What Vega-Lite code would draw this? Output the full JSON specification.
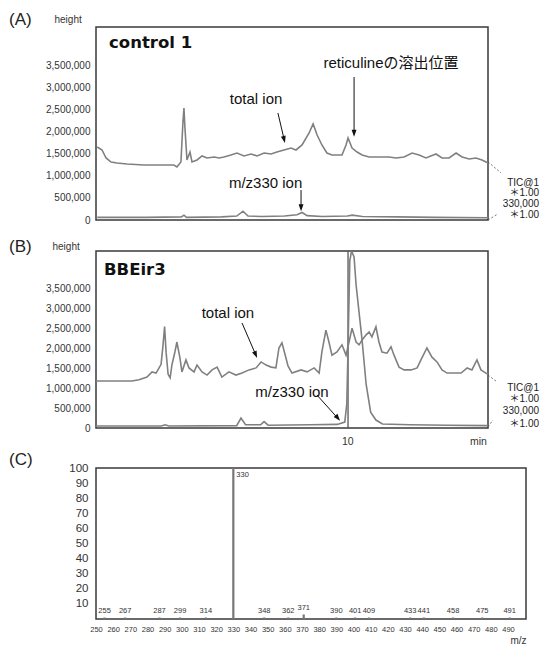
{
  "$schema": "https://vega.github.io/schema/vega-lite/v6.json",
  "background": "white",
  "padding": {"left": 8, "top": 10, "right": 2, "bottom": 2},
  "spacing": 1,
  "config": {
    "view": {"stroke": "#3a3a3a", "strokeWidth": 1.5},
    "font": "Liberation Sans",
    "axis": {"grid": false, "ticks": false, "domain": false, "labelColor": "#333", "labelFont": "Liberation Sans", "titleFont": "Liberation Sans", "titleColor": "#333", "titleFontWeight": "normal", "labelFlush": false, "labelOverlap": false},
    "title": {"anchor": "start", "frame": "group", "fontSize": 17, "fontWeight": "normal", "font": "Liberation Sans", "color": "#222", "dx": -87, "offset": -15}
  },
  "datasets": {
    "trA": [
      {"t": 0.05, "v": 1659000, "s": "tic"}, {"t": 0.24, "v": 1591000, "s": "tic"}, {"t": 0.40, "v": 1409000, "s": "tic"}, {"t": 0.60, "v": 1318000, "s": "tic"}, {"t": 0.84, "v": 1295000, "s": "tic"}, {"t": 1.23, "v": 1273000, "s": "tic"}, {"t": 1.91, "v": 1250000, "s": "tic"}, {"t": 2.59, "v": 1250000, "s": "tic"}, {"t": 3.10, "v": 1250000, "s": "tic"}, {"t": 3.22, "v": 1205000, "s": "tic"}, {"t": 3.38, "v": 1318000, "s": "tic"}, {"t": 3.46, "v": 2227000, "s": "tic"}, {"t": 3.50, "v": 2545000, "s": "tic"}, {"t": 3.54, "v": 2091000, "s": "tic"}, {"t": 3.62, "v": 1364000, "s": "tic"}, {"t": 3.74, "v": 1545000, "s": "tic"}, {"t": 3.82, "v": 1318000, "s": "tic"}, {"t": 4.02, "v": 1364000, "s": "tic"}, {"t": 4.22, "v": 1455000, "s": "tic"}, {"t": 4.42, "v": 1409000, "s": "tic"}, {"t": 4.70, "v": 1432000, "s": "tic"}, {"t": 4.90, "v": 1409000, "s": "tic"}, {"t": 5.09, "v": 1432000, "s": "tic"}, {"t": 5.37, "v": 1477000, "s": "tic"}, {"t": 5.61, "v": 1523000, "s": "tic"}, {"t": 5.89, "v": 1455000, "s": "tic"}, {"t": 6.17, "v": 1500000, "s": "tic"}, {"t": 6.41, "v": 1455000, "s": "tic"}, {"t": 6.69, "v": 1523000, "s": "tic"}, {"t": 6.97, "v": 1500000, "s": "tic"}, {"t": 7.20, "v": 1545000, "s": "tic"}, {"t": 7.48, "v": 1591000, "s": "tic"}, {"t": 7.76, "v": 1636000, "s": "tic"}, {"t": 7.96, "v": 1591000, "s": "tic"}, {"t": 8.20, "v": 1705000, "s": "tic"}, {"t": 8.48, "v": 1977000, "s": "tic"}, {"t": 8.64, "v": 2182000, "s": "tic"}, {"t": 8.80, "v": 1932000, "s": "tic"}, {"t": 8.99, "v": 1705000, "s": "tic"}, {"t": 9.19, "v": 1523000, "s": "tic"}, {"t": 9.39, "v": 1477000, "s": "tic"}, {"t": 9.79, "v": 1477000, "s": "tic"}, {"t": 9.95, "v": 1705000, "s": "tic"}, {"t": 10.03, "v": 1864000, "s": "tic"}, {"t": 10.19, "v": 1636000, "s": "tic"}, {"t": 10.39, "v": 1545000, "s": "tic"}, {"t": 10.59, "v": 1477000, "s": "tic"}, {"t": 10.87, "v": 1432000, "s": "tic"}, {"t": 11.26, "v": 1432000, "s": "tic"}, {"t": 11.66, "v": 1432000, "s": "tic"}, {"t": 11.94, "v": 1409000, "s": "tic"}, {"t": 12.26, "v": 1432000, "s": "tic"}, {"t": 12.58, "v": 1523000, "s": "tic"}, {"t": 12.86, "v": 1477000, "s": "tic"}, {"t": 13.13, "v": 1409000, "s": "tic"}, {"t": 13.53, "v": 1500000, "s": "tic"}, {"t": 13.77, "v": 1409000, "s": "tic"}, {"t": 14.05, "v": 1409000, "s": "tic"}, {"t": 14.33, "v": 1523000, "s": "tic"}, {"t": 14.57, "v": 1432000, "s": "tic"}, {"t": 14.85, "v": 1386000, "s": "tic"}, {"t": 15.12, "v": 1409000, "s": "tic"}, {"t": 15.36, "v": 1364000, "s": "tic"}, {"t": 15.60, "v": 1295000, "s": "tic"},
      {"t": 0.05, "v": 60000, "s": "mz"}, {"t": 2.0, "v": 60000, "s": "mz"}, {"t": 3.4, "v": 70000, "s": "mz"}, {"t": 3.5, "v": 110000, "s": "mz"}, {"t": 3.6, "v": 60000, "s": "mz"}, {"t": 5.0, "v": 70000, "s": "mz"}, {"t": 5.6, "v": 90000, "s": "mz"}, {"t": 5.85, "v": 200000, "s": "mz"}, {"t": 6.05, "v": 90000, "s": "mz"}, {"t": 6.6, "v": 80000, "s": "mz"}, {"t": 7.5, "v": 90000, "s": "mz"}, {"t": 8.0, "v": 120000, "s": "mz"}, {"t": 8.2, "v": 170000, "s": "mz"}, {"t": 8.4, "v": 100000, "s": "mz"}, {"t": 9.0, "v": 80000, "s": "mz"}, {"t": 10.0, "v": 90000, "s": "mz"}, {"t": 10.2, "v": 110000, "s": "mz"}, {"t": 10.6, "v": 80000, "s": "mz"}, {"t": 12.0, "v": 70000, "s": "mz"}, {"t": 13.5, "v": 60000, "s": "mz"}, {"t": 15.6, "v": 50000, "s": "mz"}
    ],
    "trB": [
      {"t": 0.0, "v": 1180000, "s": "tic"}, {"t": 1.43, "v": 1180000, "s": "tic"}, {"t": 1.71, "v": 1210000, "s": "tic"}, {"t": 2.03, "v": 1280000, "s": "tic"}, {"t": 2.23, "v": 1410000, "s": "tic"}, {"t": 2.39, "v": 1380000, "s": "tic"}, {"t": 2.51, "v": 1510000, "s": "tic"}, {"t": 2.59, "v": 1600000, "s": "tic"}, {"t": 2.67, "v": 2100000, "s": "tic"}, {"t": 2.73, "v": 2550000, "s": "tic"}, {"t": 2.79, "v": 1900000, "s": "tic"}, {"t": 2.87, "v": 1350000, "s": "tic"}, {"t": 2.95, "v": 1260000, "s": "tic"}, {"t": 3.02, "v": 1580000, "s": "tic"}, {"t": 3.14, "v": 1910000, "s": "tic"}, {"t": 3.22, "v": 2160000, "s": "tic"}, {"t": 3.34, "v": 1760000, "s": "tic"}, {"t": 3.42, "v": 1410000, "s": "tic"}, {"t": 3.58, "v": 1710000, "s": "tic"}, {"t": 3.70, "v": 1510000, "s": "tic"}, {"t": 3.90, "v": 1410000, "s": "tic"}, {"t": 4.02, "v": 1580000, "s": "tic"}, {"t": 4.22, "v": 1410000, "s": "tic"}, {"t": 4.42, "v": 1330000, "s": "tic"}, {"t": 4.62, "v": 1460000, "s": "tic"}, {"t": 4.82, "v": 1530000, "s": "tic"}, {"t": 5.01, "v": 1280000, "s": "tic"}, {"t": 5.29, "v": 1410000, "s": "tic"}, {"t": 5.57, "v": 1330000, "s": "tic"}, {"t": 5.81, "v": 1380000, "s": "tic"}, {"t": 6.09, "v": 1460000, "s": "tic"}, {"t": 6.37, "v": 1510000, "s": "tic"}, {"t": 6.57, "v": 1660000, "s": "tic"}, {"t": 6.77, "v": 1580000, "s": "tic"}, {"t": 6.97, "v": 1530000, "s": "tic"}, {"t": 7.16, "v": 1510000, "s": "tic"}, {"t": 7.28, "v": 2010000, "s": "tic"}, {"t": 7.40, "v": 2140000, "s": "tic"}, {"t": 7.56, "v": 1760000, "s": "tic"}, {"t": 7.64, "v": 1560000, "s": "tic"}, {"t": 7.80, "v": 1380000, "s": "tic"}, {"t": 8.16, "v": 1460000, "s": "tic"}, {"t": 8.40, "v": 1410000, "s": "tic"}, {"t": 8.68, "v": 1510000, "s": "tic"}, {"t": 8.88, "v": 1380000, "s": "tic"}, {"t": 8.99, "v": 1910000, "s": "tic"}, {"t": 9.15, "v": 2460000, "s": "tic"}, {"t": 9.27, "v": 2160000, "s": "tic"}, {"t": 9.39, "v": 1830000, "s": "tic"}, {"t": 9.59, "v": 1910000, "s": "tic"}, {"t": 9.79, "v": 2090000, "s": "tic"}, {"t": 9.95, "v": 1830000, "s": "tic"}, {"t": 10.07, "v": 2160000, "s": "tic"}, {"t": 10.19, "v": 2510000, "s": "tic"}, {"t": 10.35, "v": 2160000, "s": "tic"}, {"t": 10.47, "v": 2090000, "s": "tic"}, {"t": 10.59, "v": 2210000, "s": "tic"}, {"t": 10.75, "v": 2340000, "s": "tic"}, {"t": 10.87, "v": 2410000, "s": "tic"}, {"t": 10.98, "v": 2290000, "s": "tic"}, {"t": 11.14, "v": 2540000, "s": "tic"}, {"t": 11.26, "v": 2160000, "s": "tic"}, {"t": 11.38, "v": 1910000, "s": "tic"}, {"t": 11.58, "v": 1880000, "s": "tic"}, {"t": 11.74, "v": 2040000, "s": "tic"}, {"t": 11.86, "v": 1830000, "s": "tic"}, {"t": 12.06, "v": 1530000, "s": "tic"}, {"t": 12.26, "v": 1460000, "s": "tic"}, {"t": 12.54, "v": 1460000, "s": "tic"}, {"t": 12.78, "v": 1510000, "s": "tic"}, {"t": 12.97, "v": 1760000, "s": "tic"}, {"t": 13.17, "v": 2010000, "s": "tic"}, {"t": 13.37, "v": 1780000, "s": "tic"}, {"t": 13.57, "v": 1660000, "s": "tic"}, {"t": 13.77, "v": 1460000, "s": "tic"}, {"t": 13.97, "v": 1380000, "s": "tic"}, {"t": 14.25, "v": 1380000, "s": "tic"}, {"t": 14.53, "v": 1380000, "s": "tic"}, {"t": 14.77, "v": 1510000, "s": "tic"}, {"t": 14.96, "v": 1460000, "s": "tic"}, {"t": 15.16, "v": 1710000, "s": "tic"}, {"t": 15.32, "v": 1460000, "s": "tic"}, {"t": 15.52, "v": 1380000, "s": "tic"}, {"t": 15.60, "v": 1350000, "s": "tic"},
      {"t": 0.0, "v": 50000, "s": "mz"}, {"t": 2.6, "v": 50000, "s": "mz"}, {"t": 2.75, "v": 80000, "s": "mz"}, {"t": 2.9, "v": 50000, "s": "mz"}, {"t": 5.6, "v": 60000, "s": "mz"}, {"t": 5.77, "v": 250000, "s": "mz"}, {"t": 5.95, "v": 80000, "s": "mz"}, {"t": 6.55, "v": 80000, "s": "mz"}, {"t": 6.69, "v": 160000, "s": "mz"}, {"t": 6.85, "v": 70000, "s": "mz"}, {"t": 8.5, "v": 80000, "s": "mz"}, {"t": 9.6, "v": 90000, "s": "mz"}, {"t": 9.9, "v": 150000, "s": "mz"}, {"t": 9.98, "v": 600000, "s": "mz"}, {"t": 10.03, "v": 2000000, "s": "mz"}, {"t": 10.1, "v": 4200000, "s": "mz"}, {"t": 10.17, "v": 4900000, "s": "mz"}, {"t": 10.27, "v": 4300000, "s": "mz"}, {"t": 10.35, "v": 3600000, "s": "mz"}, {"t": 10.47, "v": 2900000, "s": "mz"}, {"t": 10.59, "v": 2200000, "s": "mz"}, {"t": 10.75, "v": 1100000, "s": "mz"}, {"t": 10.93, "v": 400000, "s": "mz"}, {"t": 11.14, "v": 200000, "s": "mz"}, {"t": 11.4, "v": 100000, "s": "mz"}, {"t": 12.5, "v": 80000, "s": "mz"}, {"t": 14.0, "v": 70000, "s": "mz"}, {"t": 15.6, "v": 60000, "s": "mz"}
    ],
    "boldA": [{"t": 0.52, "v": 3910000, "label": "control 1"}],
    "boldB": [{"t": 0.32, "v": 3840000, "label": "BBEir3"}],
    "notesA": [
      {"t": 6.37, "v": 2750000, "label": "total ion"},
      {"t": 6.75, "v": 840000, "label": "m/z330 ion"},
      {"t": 11.74, "v": 3570000, "label": "reticulineの溶出位置"}
    ],
    "notesB": [
      {"t": 5.25, "v": 2890000, "label": "total ion"},
      {"t": 7.8, "v": 900000, "label": "m/z330 ion"}
    ],
    "arrowsA": [
      {"t": 7.24, "v": 2430000, "t2": 7.5, "v2": 1800000},
      {"t": 8.16, "v": 680000, "t2": 8.16, "v2": 250000},
      {"t": 10.27, "v": 3250000, "t2": 10.27, "v2": 1950000}
    ],
    "headsA": [
      {"t": 7.52, "v": 1750000, "angle": 166},
      {"t": 8.16, "v": 200000, "angle": 180},
      {"t": 10.27, "v": 1890000, "angle": 180}
    ],
    "arrowsB": [
      {"t": 5.81, "v": 2640000, "t2": 6.37, "v2": 1820000},
      {"t": 8.79, "v": 830000, "t2": 9.66, "v2": 220000}
    ],
    "headsB": [
      {"t": 6.41, "v": 1760000, "angle": 157},
      {"t": 9.71, "v": 180000, "angle": 141}
    ],
    "sideA": [
      {"t": 17.63, "v": 840000, "label": "TIC@1"},
      {"t": 17.63, "v": 610000, "label": "＊1.00"},
      {"t": 17.63, "v": 360000, "label": "330,000"},
      {"t": 17.63, "v": 110000, "label": "＊1.00"}
    ],
    "sideB": [
      {"t": 17.63, "v": 1000000, "label": "TIC@1"},
      {"t": 17.63, "v": 730000, "label": "＊1.00"},
      {"t": 17.63, "v": 430000, "label": "330,000"},
      {"t": 17.63, "v": 100000, "label": "＊1.00"}
    ],
    "connA": [
      {"t": 15.6, "v": 1320000, "t2": 16.12, "v2": 1070000},
      {"t": 15.6, "v": 0, "t2": 16.0, "v2": 140000}
    ],
    "connB": [
      {"t": 15.6, "v": 1330000, "t2": 15.96, "v2": 1160000},
      {"t": 15.6, "v": 30000, "t2": 15.8, "v2": 200000}
    ],
    "vlineB": [{"t": 10.03, "v": 0, "v2": 4447000}],
    "spec": [
      {"mz": 255, "i": 1}, {"mz": 267, "i": 1}, {"mz": 287, "i": 1}, {"mz": 299, "i": 1}, {"mz": 314, "i": 1},
      {"mz": 330, "i": 100}, {"mz": 348, "i": 1}, {"mz": 362, "i": 1}, {"mz": 371, "i": 3}, {"mz": 390, "i": 1},
      {"mz": 401, "i": 1}, {"mz": 409, "i": 1}, {"mz": 433, "i": 1}, {"mz": 441, "i": 1}, {"mz": 458, "i": 1},
      {"mz": 475, "i": 1}, {"mz": 491, "i": 1}
    ]
  },
  "vconcat": [
    {
      "width": 392,
      "height": 193,
      "title": {"text": "(A)"},
      "encoding": {
        "x": {"field": "t", "type": "quantitative", "scale": {"domain": [0, 15.6], "nice": false, "zero": false},
              "axis": {"labels": false, "title": null, "minExtent": 15}},
        "y": {"field": "v", "type": "quantitative", "scale": {"domain": [0, 4386000], "nice": false},
              "axis": {"values": [0, 500000, 1000000, 1500000, 2000000, 2500000, 3000000, 3500000], "labelExpr": "format(datum.value, ',d')", "labelFontSize": 10, "labelPadding": 6,
                       "title": "height", "titleAngle": 0, "titleX": -42, "titleY": -8, "titleAlign": "left", "titleBaseline": "middle", "titleFontSize": 10}}
      },
      "layer": [
        {"data": {"name": "trA"}, "mark": {"type": "line", "color": "#808080", "strokeWidth": 1.6, "clip": true}, "encoding": {"detail": {"field": "s"}}},
        {"data": {"name": "connA"}, "mark": {"type": "rule", "color": "#555", "strokeWidth": 0.8, "strokeDash": [2, 2]}, "encoding": {"x2": {"field": "t2"}, "y2": {"field": "v2"}}},
        {"data": {"name": "arrowsA"}, "mark": {"type": "rule", "color": "#111", "strokeWidth": 1}, "encoding": {"x2": {"field": "t2"}, "y2": {"field": "v2"}}},
        {"data": {"name": "headsA"}, "mark": {"type": "point", "shape": "M0,0L0.35,1L-0.35,1Z", "filled": true, "color": "#111", "size": 196, "opacity": 1}, "encoding": {"angle": {"field": "angle", "type": "quantitative", "scale": null}}},
        {"data": {"name": "boldA"}, "mark": {"type": "text", "font": "DejaVu Sans", "fontWeight": "bold", "fontSize": 16.5, "align": "left", "baseline": "alphabetic", "color": "#111"}, "encoding": {"text": {"field": "label"}}},
        {"data": {"name": "notesA"}, "mark": {"type": "text", "font": "Liberation Sans, Noto Sans CJK JP", "fontSize": 15, "align": "center", "baseline": "middle", "color": "#111"}, "encoding": {"text": {"field": "label"}}},
        {"data": {"name": "sideA"}, "mark": {"type": "text", "font": "Liberation Sans, Noto Sans CJK JP", "fontSize": 10, "align": "right", "baseline": "middle", "color": "#222"}, "encoding": {"text": {"field": "label"}}}
      ]
    },
    {
      "width": 392,
      "height": 177,
      "title": {"text": "(B)"},
      "encoding": {
        "x": {"field": "t", "type": "quantitative", "scale": {"domain": [0, 15.6], "nice": false, "zero": false},
              "axis": {"values": [10, 15.2], "labelExpr": "datum.value == 10 ? '10' : 'min'", "labelFontSize": 10.5, "labelPadding": 8, "title": null, "minExtent": 20}},
        "y": {"field": "v", "type": "quantitative", "scale": {"domain": [0, 4447000], "nice": false, "clamp": true},
              "axis": {"values": [0, 500000, 1000000, 1500000, 2000000, 2500000, 3000000, 3500000], "labelExpr": "format(datum.value, ',d')", "labelFontSize": 10, "labelPadding": 6,
                       "title": "height", "titleAngle": 0, "titleX": -44, "titleY": -5, "titleAlign": "left", "titleBaseline": "middle", "titleFontSize": 10}}
      },
      "layer": [
        {"data": {"name": "vlineB"}, "mark": {"type": "rule", "color": "#555", "strokeWidth": 1.3}, "encoding": {"y2": {"field": "v2"}}},
        {"data": {"name": "trB"}, "mark": {"type": "line", "color": "#808080", "strokeWidth": 1.6, "clip": true}, "encoding": {"detail": {"field": "s"}}},
        {"data": {"name": "connB"}, "mark": {"type": "rule", "color": "#555", "strokeWidth": 0.8, "strokeDash": [2, 2]}, "encoding": {"x2": {"field": "t2"}, "y2": {"field": "v2"}}},
        {"data": {"name": "arrowsB"}, "mark": {"type": "rule", "color": "#111", "strokeWidth": 1}, "encoding": {"x2": {"field": "t2"}, "y2": {"field": "v2"}}},
        {"data": {"name": "headsB"}, "mark": {"type": "point", "shape": "M0,0L0.35,1L-0.35,1Z", "filled": true, "color": "#111", "size": 196, "opacity": 1}, "encoding": {"angle": {"field": "angle", "type": "quantitative", "scale": null}}},
        {"data": {"name": "boldB"}, "mark": {"type": "text", "font": "DejaVu Sans", "fontWeight": "bold", "fontSize": 16.5, "align": "left", "baseline": "alphabetic", "color": "#111"}, "encoding": {"text": {"field": "label"}}},
        {"data": {"name": "notesB"}, "mark": {"type": "text", "font": "Liberation Sans, Noto Sans CJK JP", "fontSize": 15, "align": "center", "baseline": "middle", "color": "#111"}, "encoding": {"text": {"field": "label"}}},
        {"data": {"name": "sideB"}, "mark": {"type": "text", "font": "Liberation Sans, Noto Sans CJK JP", "fontSize": 10, "align": "right", "baseline": "middle", "color": "#222"}, "encoding": {"text": {"field": "label"}}}
      ]
    },
    {
      "width": 430,
      "height": 151,
      "title": {"text": "(C)", "offset": -7},
      "data": {"name": "spec"},
      "encoding": {
        "x": {"field": "mz", "type": "quantitative", "scale": {"domain": [250, 500.5], "nice": false, "zero": false},
              "axis": {"values": [250, 260, 270, 280, 290, 300, 310, 320, 330, 340, 350, 360, 370, 380, 390, 400, 410, 420, 430, 440, 450, 460, 470, 480, 490],
                       "labelFontSize": 7.5, "labelPadding": 6, "title": "m/z", "titleFontSize": 10, "titleAnchor": "end", "titlePadding": 3}},
        "y": {"field": "i", "type": "quantitative", "scale": {"domain": [0, 100], "nice": false},
              "axis": {"values": [10, 20, 30, 40, 50, 60, 70, 80, 90, 100], "labelFontSize": 11.5, "labelPadding": 8, "title": null}}
      },
      "layer": [
        {"mark": {"type": "rule", "color": "#777", "strokeWidth": 2.2}, "encoding": {"y2": {"datum": 0}}},
        {"transform": [{"filter": "datum.i < 100"}], "mark": {"type": "text", "fontSize": 7.5, "align": "center", "baseline": "bottom", "dy": -2, "color": "#333"}, "encoding": {"text": {"field": "mz"}}},
        {"transform": [{"filter": "datum.i >= 100"}], "mark": {"type": "text", "fontSize": 7.5, "align": "left", "baseline": "top", "dx": 3, "dy": 3, "color": "#333"}, "encoding": {"text": {"field": "mz"}}}
      ]
    }
  ]
}
